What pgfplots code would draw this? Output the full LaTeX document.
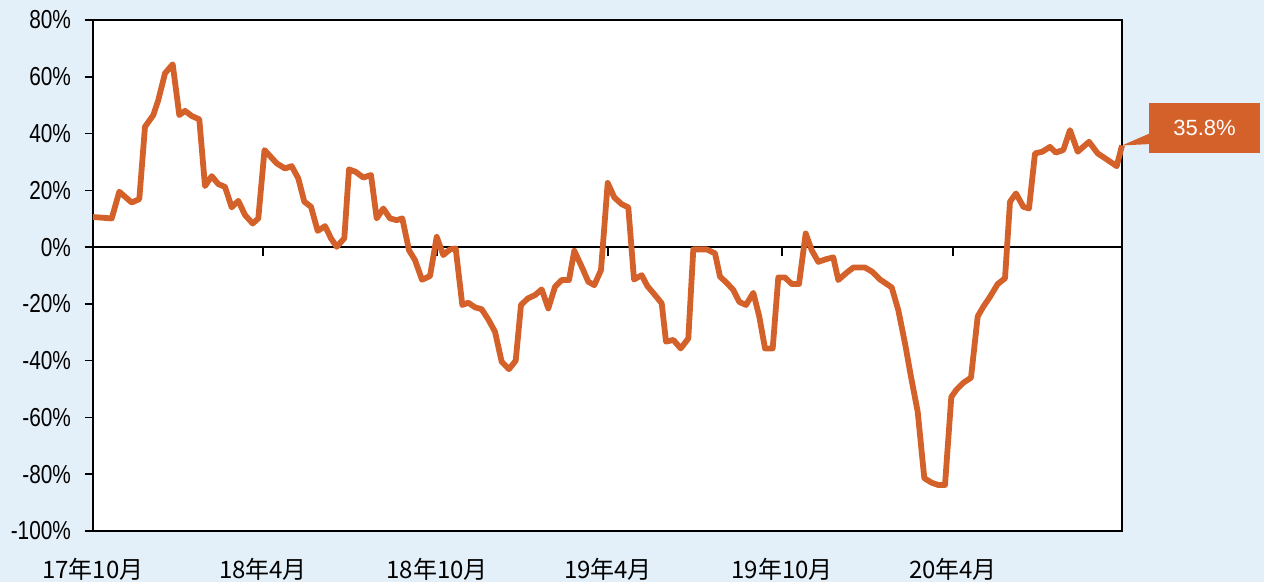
\documentclass[border=0pt]{standalone}
\usepackage{pgfplots}
\pgfplotsset{compat=1.18}
\usepackage{fontspec}
\setmainfont{Liberation Sans}
\newfontfamily\ylab{Liberation Sans}[FakeStretch=0.8]
\newfontfamily\cjk{Noto Sans CJK SC}
\definecolor{bg}{HTML}{E4F0F9}
\definecolor{ln}{HTML}{D4612A}
\begin{document}
\begin{tikzpicture}[x=1pt,y=1pt]
\fill[bg] (-46.5,-25.5) rectangle (585.5,265.5);
\useasboundingbox (-46.5,-25.5) rectangle (585.5,265.5);
\begin{axis}[at={(0,0)}, anchor=south west, scale only axis,
  width=514.5pt, height=255.5pt,
  xmin=93, xmax=1122, ymin=-100, ymax=80,
  axis background/.style={fill=white},
  axis line style={line width=1pt, black},
  xtick={93,263,437,608,782,953},
  xticklabels={17年10月,18年4月,18年10月,19年4月,19年10月,20年4月},
  x tick style={draw=none},
  xticklabel style={font=\cjk\fontsize{12}{12}\selectfont, yshift=-6pt},
  ytick={-100,-80,-60,-40,-20,0,20,40,60,80},
  yticklabels={-100\%,-80\%,-60\%,-40\%,-20\%,0\%,20\%,40\%,60\%,80\%},
  yticklabel style={font=\ylab\fontsize{13}{13}\selectfont, xshift=-3.5pt},
  ytick pos=left,
  tick align=outside, major tick length=4pt,
  y tick style={line width=0.8pt, black},
]
\end{axis}
\begin{axis}[at={(0,0)}, anchor=south west, scale only axis,
  width=514.5pt, height=255.5pt,
  xmin=93, xmax=1122, ymin=-100, ymax=80,
  axis x line=middle, axis y line=none,
  x axis line style={-, line width=1pt, black},
  xtick={263,437,608,782,953}, xticklabels={},
  tick align=outside, major tick length=4.5pt,
  x tick style={line width=0.8pt, black},
  clip=false,
]
\addplot[ln, line width=2.9pt, line join=round] coordinates {
(93,10.6) (111.7,10.1) (119.3,19.5) (131.7,15.7) (139.3,16.9) (145,42.4)
(153.3,46.5) (158.3,51.8) (165,61.2) (172.7,64.4) (179.3,46.5) (185,48)
(191.7,46.2) (199.3,45) (205,21.5) (211.7,25) (218.3,22.2) (225,21.2)
(231.7,14) (238.3,16.3) (245,11.3) (252.7,8.3) (258.3,10.1) (264.5,34.2)
(276.7,29.5) (285,27.7) (291.7,28.5) (298.3,24.2) (304.3,16) (311,14.2)
(317.7,5.7) (325,7.4) (331,3.1) (336.7,0.1) (344.3,3.1) (349,27.4)
(355.7,26.5) (363.3,24.5) (371,25.4) (376.7,10.1) (383.3,13.6) (390,10.1)
(396.7,9.5) (402.3,10.1) (409,-1.1) (415,-4.6) (422,-11.5) (430,-10.2)
(436.7,3.6) (443.3,-2.8) (450,-0.8) (455.7,-0.5) (462.3,-20.4) (468.3,-19.6)
(475,-21.2) (481.7,-21.9) (488.3,-25.5) (495,-29.8) (501.7,-40.4) (509,-43)
(515.7,-40) (521,-20.4) (527.7,-18.1) (535,-16.9) (541.7,-14.9) (548.3,-21.6)
(555,-14) (561.7,-11.6) (569,-11.6) (574.3,-1.3) (581.7,-6.9) (588.3,-12.2)
(594.3,-13.4) (601,-8.1) (607.7,22.6) (614.3,17.5) (621.7,15.1) (628.3,14)
(634,-11.4) (641.7,-9.9) (647.3,-13.7) (655,-16.9) (661.7,-19.8) (666,-33.3)
(673.3,-32.7) (680.7,-35.7) (688.3,-32.2) (693.3,-0.8) (700,-0.8) (706.7,-0.8)
(715,-2.2) (720,-10.4) (726.7,-12.6) (733.3,-15.1) (739.3,-19.3) (746,-20.4)
(753.3,-16.1) (759.3,-24.5) (765,-35.7) (772.7,-35.7) (778.3,-10.7) (785,-10.7)
(791.7,-13) (799,-13) (805.7,4.8) (811.7,-1.1) (818.3,-5.2) (825.7,-4.3)
(833.3,-3.6) (838.3,-11.6) (846.7,-9) (853.3,-7.2) (865,-7.2) (872.3,-8.7)
(880,-11.4) (891.7,-14.2) (898.3,-22.2) (905,-33.9) (911,-45.7) (917.7,-58)
(924.3,-81.4) (931.7,-83) (938.3,-83.8) (945,-83.8) (951.3,-52.8) (956.5,-50.2)
(963.3,-47.8) (971,-46) (977.7,-24.4) (983.3,-21) (990,-17.5) (997.7,-13)
(1005,-11) (1010,16) (1016,18.9) (1023.3,14.2) (1029,13.6) (1035,33)
(1042.3,33.6) (1050,35.3) (1055.7,33.3) (1063.3,34.2) (1070,41.2) (1077.7,33.6)
(1089,37.1) (1097.7,33) (1106.7,30.9) (1116.7,28.5) (1122,35.8)
};
\fill[ln] (axis cs:1122,35.8) -- (axis cs:1150,36.3) -- (axis cs:1150,40.1) -- cycle;
\fill[ln] (axis cs:1149,33.1) rectangle (axis cs:1260,50.7);
\node[white, font=\fontsize{11}{11}\selectfont] at (axis cs:1204.5,41.9) {35.8\%};
\end{axis}
\end{tikzpicture}
\end{document}
